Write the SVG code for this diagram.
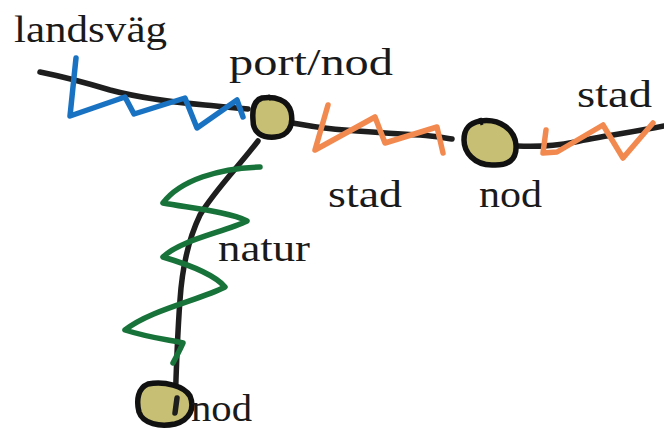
<svg xmlns="http://www.w3.org/2000/svg" width="664" height="428" viewBox="0 0 664 428">
<style>
.road{fill:none;stroke:#1e1e1e;stroke-width:5.5;stroke-linecap:round;stroke-linejoin:round}
.zig{fill:none;stroke-width:5.5;stroke-linecap:round;stroke-linejoin:round}
.blue{stroke:#1a73c2}
.orange{stroke:#f28a50}
.green{stroke:#17733a}
.node{fill:#c7bf74;stroke:#111;stroke-width:5.5;stroke-linejoin:round}
.lbl{font-family:"Liberation Serif",serif;font-size:38px;fill:#1a1a1a}
</style>
<rect width="664" height="428" fill="#fff"/>
<g id="connectors">
<path class="road" d="M40,72 C70,78 90,84 110,90 C140,98 170,102 205,105 C225,107 238,108 248,109"/>
<path class="road" d="M293,123 C310,126 325,129 345,130 C370,132 395,134 420,135 C435,136 445,138 452,139"/>
<path class="road" d="M517,146 C535,147 555,146 575,142 C600,136 630,133 664,126"/>
<path class="road" d="M258,141 C240,165 215,190 200,215 C188,240 182,270 180,300 C177,340 176,375 175,412"/>
<path class="zig blue" d="M76,58 L70,116 L125,97 L134,114 L185,98 L197,128 L237,100 L243,117"/>
<path class="zig orange" d="M328,105 L315,150 L375,117 L385,143 L437,127 L443,153"/>
<path class="zig orange" d="M546,130 L543,153 L557,152 L603,125 L623,158 L653,123"/>
<path class="zig green" d="M260,167 C220,168 180,180 163,203 C190,208 230,212 247,221 C225,232 180,240 163,257 C190,265 215,275 225,287 C200,300 150,310 125,330 C150,338 170,340 183,343 C180,350 176,357 173,363"/>
</g>
<g id="node-port">
<path class="node" d="M262,98 C275,96 288,100 291,112 C294,126 288,136 275,137 C262,138 253,133 253,120 C252,108 255,100 262,98 Z"/>
<path d="M268,95 L271,100" stroke="#111" stroke-width="3"/>
</g>
<g id="node-east">
<path class="node" d="M480,121 C500,118 515,130 516,145 C517,160 508,166 492,165 C474,165 464,152 464,140 C464,128 470,123 480,121 Z"/>
<path d="M480,118 L482,125" stroke="#111" stroke-width="3"/>
</g>
<g id="node-south">
<path class="node" d="M148,384 C165,381 184,386 190,396 C195,408 190,420 175,424 C160,427 143,424 139,412 C136,400 138,388 148,384 Z"/>
<path class="road" d="M177,398 L175,413"/>
</g>
<g id="labels">
<text class="lbl" x="14" y="42" textLength="153" lengthAdjust="spacingAndGlyphs">landsväg</text>
<text class="lbl" x="229" y="75" textLength="164" lengthAdjust="spacingAndGlyphs">port/nod</text>
<text class="lbl" x="577" y="107" textLength="75" lengthAdjust="spacingAndGlyphs">stad</text>
<text class="lbl" x="328" y="207" textLength="74" lengthAdjust="spacingAndGlyphs">stad</text>
<text class="lbl" x="479" y="207" textLength="63" lengthAdjust="spacingAndGlyphs">nod</text>
<text class="lbl" x="218" y="261" textLength="92" lengthAdjust="spacingAndGlyphs">natur</text>
<text class="lbl" x="191" y="421" textLength="61" lengthAdjust="spacingAndGlyphs">nod</text>
</g>
</svg>
